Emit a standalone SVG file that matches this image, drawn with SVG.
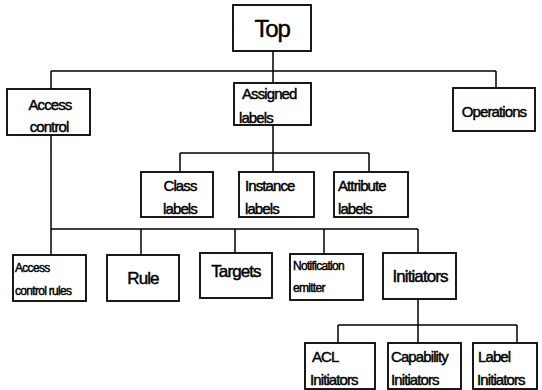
<svg xmlns="http://www.w3.org/2000/svg" width="542" height="390" viewBox="0 0 542 390">
<style>
rect{fill:#fff;stroke:#000;stroke-width:1.8}
.c path{fill:none;stroke:#000;stroke-width:1.5}
text{font-family:"Liberation Sans",Arial,sans-serif;font-size:15px;fill:#000;letter-spacing:-0.9px;stroke:#000;stroke-width:0.45}
.m{text-anchor:middle}
.s{font-size:12px;letter-spacing:-0.7px}
.l{font-size:17px}
</style>
<rect x="0" y="0" width="542" height="390" style="stroke:none"/>
<g class="c" id="connectors">
<path d="M273 51V83M51 71H496M51 71V89M496 71V88"/>
<path d="M273 125V153M180 153H369M180 153V172M273 153V172M369 153V172"/>
<path d="M51 135V229H418M141 229V255M235 229V253M324 229V254M418 229V253M51 229V255"/>
<path d="M418 299V343M338 325H517M338 325V343M418 325V343M517 325V343"/>
</g>
<g id="top"><rect x="233" y="5" width="78" height="46"/><text class="m" x="272" y="37" style="font-size:24px;letter-spacing:-1.2px">Top</text></g>
<g id="access-control"><rect x="7" y="89" width="83" height="46"/><text class="m" x="50" y="110">Access</text><text class="m" x="49" y="132">control</text></g>
<g id="assigned-labels"><rect x="234" y="83" width="77" height="42"/><text x="242" y="99">Assigned</text><text x="239" y="123">labels</text></g>
<g id="operations"><rect x="453" y="88" width="82" height="43"/><text class="m" x="494" y="117">Operations</text></g>
<g id="class-labels"><rect x="141" y="172" width="72" height="45"/><text class="m" x="180" y="191">Class</text><text class="m" x="180" y="214">labels</text></g>
<g id="instance-labels"><rect x="239" y="172" width="75" height="45"/><text x="245" y="191">Instance</text><text x="245" y="214">labels</text></g>
<g id="attribute-labels"><rect x="334" y="172" width="74" height="45"/><text x="338" y="191">Attribute</text><text x="338" y="214">labels</text></g>
<g id="access-control-rules"><rect x="13" y="255" width="73" height="46"/><text class="s" x="15" y="272">Access</text><text class="s" x="15" y="295">control rules</text></g>
<g id="rule"><rect x="107" y="255" width="72" height="46"/><text class="m l" x="143" y="284">Rule</text></g>
<g id="targets"><rect x="200" y="253" width="72" height="45"/><text class="m l" x="236" y="277">Targets</text></g>
<g id="notification-emitter"><rect x="290" y="254" width="73" height="46"/><text class="s" x="293" y="270">Notification</text><text class="s" x="293" y="292">emitter</text></g>
<g id="initiators"><rect x="383" y="253" width="73" height="46"/><text class="m l" x="420" y="282">Initiators</text></g>
<g id="acl-initiators"><rect x="305" y="343" width="70" height="46"/><text x="312" y="362">ACL</text><text x="310" y="385">Initiators</text></g>
<g id="capability-initiators"><rect x="388" y="343" width="73" height="46"/><text x="391" y="362">Capability</text><text x="391" y="385">Initiators</text></g>
<g id="label-initiators"><rect x="473" y="343" width="64" height="46"/><text x="478" y="362">Label</text><text x="477" y="385">Initiators</text></g>
</svg>
